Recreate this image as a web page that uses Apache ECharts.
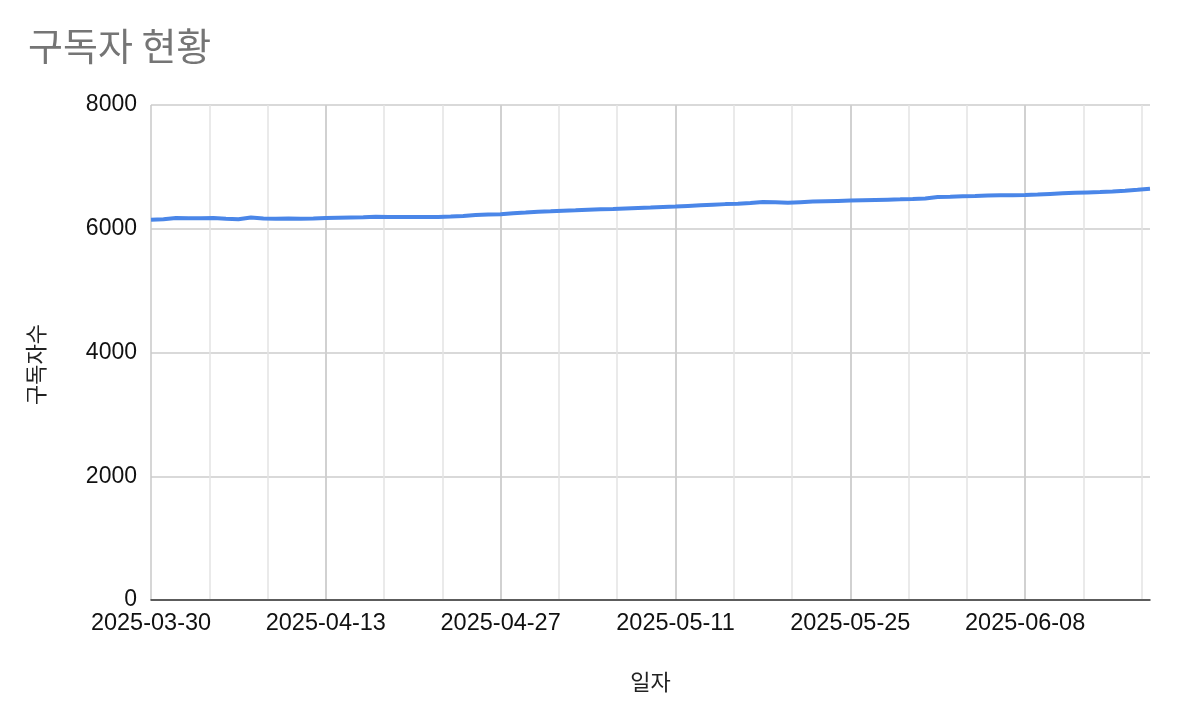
<!DOCTYPE html>
<html>
<head>
<meta charset="utf-8">
<script src="https://cdn.jsdelivr.net/npm/echarts@6/dist/echarts.min.js"></script>
<style>
  html, body { margin: 0; padding: 0; background: #fff; }
  #chart { width: 1178px; height: 722px; }
</style>
</head>
<body>
<div id="chart"></div>
<script>
// ---- data ----
const titleText = '구독자 현황';
const xAxisName = '일자';
const yAxisName = '구독자수';
const startDate = '2025-03-30';           // first day (day index 0)
const dayTickInterval = 14;                // labelled ticks every 14 days
const yTicks = [0, 2000, 4000, 6000, 8000];
// daily subscriber counts, 2025-03-30 .. 2025-06-18
const subscribers = [
  6145, 6155, 6172, 6170, 6168, 6172, 6162, 6155, 6182, 6165,
  6162, 6164, 6162, 6165, 6172, 6178, 6183, 6185, 6192, 6188,
  6190, 6191, 6189, 6190, 6198, 6208, 6222, 6230, 6235, 6250,
  6262, 6275, 6282, 6290, 6298, 6308, 6315, 6320, 6328, 6335,
  6342, 6350, 6358, 6368, 6378, 6388, 6398, 6405, 6415, 6432,
  6428, 6420, 6430, 6440, 6445, 6450, 6455, 6460, 6465, 6470,
  6475, 6482, 6490, 6512, 6518, 6525, 6530, 6536, 6540, 6542,
  6545, 6552, 6562, 6572, 6580, 6586, 6592, 6602, 6615, 6630,
  6648
];

// ---- helpers ----
const startMs = Date.parse(startDate + 'T00:00:00Z');
function dayToLabel(d) {
  const dt = new Date(startMs + d * 86400000);
  const y = dt.getUTCFullYear();
  const m = String(dt.getUTCMonth() + 1).padStart(2, '0');
  const day = String(dt.getUTCDate()).padStart(2, '0');
  return y + '-' + m + '-' + day;
}
const lastDay = subscribers.length - 1;
const seriesData = subscribers.map((v, i) => [i, v]);

const latin = "Arial, 'Liberation Sans', 'Noto Sans CJK KR', sans-serif";
const korean = "'Noto Sans CJK KR', Arial, sans-serif";

const chart = echarts.init(document.getElementById('chart'), null, { renderer: 'canvas' });
chart.setOption({
  animation: false,
  backgroundColor: '#ffffff',
  title: {
    text: titleText,
    left: 23,
    top: 22,
    textStyle: { fontFamily: korean, fontSize: 38, fontWeight: 'normal', color: '#757575' }
  },
  grid: { left: 151, right: 28, top: 105, bottom: 122, containLabel: false },
  xAxis: [
    {
      type: 'value',
      min: 0,
      max: lastDay,
      interval: dayTickInterval,
      name: xAxisName,
      nameLocation: 'middle',
      nameGap: 71,
      nameTextStyle: { fontFamily: korean, fontSize: 22, color: '#222' },
      axisLine: { show: true, onZero: false, lineStyle: { color: '#333', width: 1.5 } },
      axisTick: { show: false },
      axisLabel: {
        fontFamily: latin, fontSize: 23.5, color: '#111', margin: 12,
        showMinLabel: true, showMaxLabel: false,
        formatter: v => (v % dayTickInterval === 0 ? dayToLabel(v) : '')
      },
      splitLine: { show: true, showMinLine: true, showMaxLine: false, lineStyle: { color: '#c8c8c8', width: 1.5 } },
      z: 3
    },
    {
      type: 'value',
      min: 0,
      max: lastDay,
      interval: dayTickInterval / 3,
      show: true,
      position: 'bottom',
      axisLine: { show: false },
      axisTick: { show: false },
      axisLabel: { show: false },
      splitLine: { show: true, showMinLine: false, showMaxLine: false, lineStyle: { color: '#e3e3e3', width: 1.5 } },
      z: 1
    }
  ],
  yAxis: {
    type: 'value',
    min: yTicks[0],
    max: yTicks[yTicks.length - 1],
    interval: yTicks[1] - yTicks[0],
    name: yAxisName,
    nameLocation: 'middle',
    nameGap: 104,
    nameRotate: 90,
    nameTextStyle: { fontFamily: korean, fontSize: 22, color: '#222', padding: [0, 24, 0, 0] },
    axisLine: { show: false },
    axisTick: { show: false },
    axisLabel: { fontFamily: latin, fontSize: 23, color: '#111', margin: 14, formatter: v => String(v) },
    splitLine: { show: true, lineStyle: { color: '#cccccc', width: 1.5 } }
  },
  series: [{
    type: 'line',
    xAxisIndex: 0,
    data: seriesData,
    showSymbol: false,
    smooth: false,
    lineStyle: { color: '#4a86e8', width: 4 },
    itemStyle: { color: '#4a86e8' },
    z: 5
  }]
});
</script>
</body>
</html>
